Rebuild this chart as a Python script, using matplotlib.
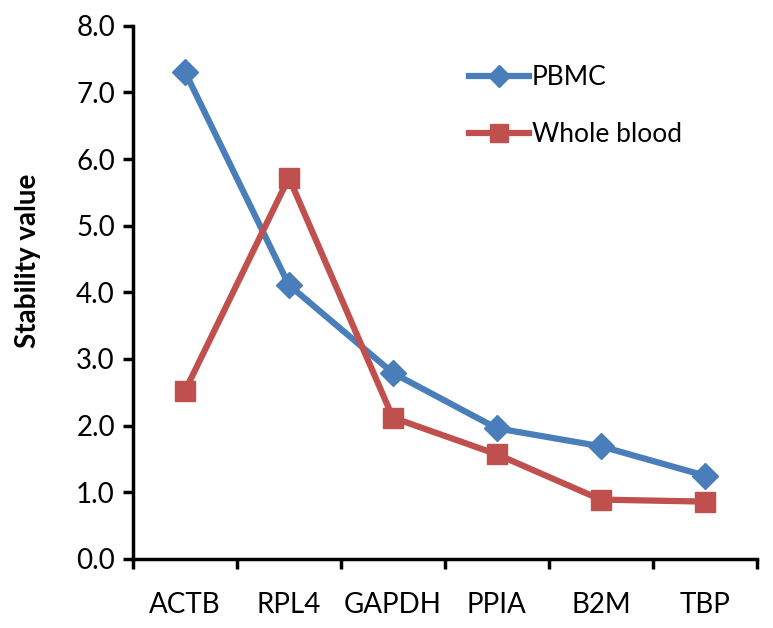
import matplotlib.pyplot as plt

plt.rcParams['font.family'] = ['Lato', 'DejaVu Sans']

genes = ['ACTB', 'RPL4', 'GAPDH', 'PPIA', 'B2M', 'TBP']
pbmc = [7.31, 4.11, 2.79, 1.96, 1.69, 1.25]
whole_blood = [2.52, 5.72, 2.12, 1.57, 0.89, 0.86]
y_ticks = [0, 1, 2, 3, 4, 5, 6, 7, 8]

fig = plt.figure(figsize=(7.73, 6.28), dpi=100)
ax = fig.add_axes([0.172, 0.110, 0.807, 0.849])

x = list(range(len(genes)))
ax.plot(x, pbmc, color='#4A7EBB', lw=4.5, marker='D', ms=13, label='PBMC')
ax.plot(x, whole_blood, color='#C0504D', lw=4.5, marker='s', ms=15, label='Whole blood')

ax.set_xlim(-0.5, len(genes) - 0.5)
ax.set_ylim(0, 8)
ax.set_yticks(y_ticks)
ax.set_yticklabels(['%.1f' % v for v in y_ticks])
ax.set_xticks(x)
ax.set_xticklabels(genes)
ax.set_xticks([i - 0.5 for i in range(len(genes) + 1)], minor=True)
ax.tick_params(axis='x', which='major', length=0, pad=24, labelsize=20)
ax.tick_params(axis='x', which='minor', length=7, width=2.5, direction='out')
ax.tick_params(axis='y', length=7, width=2.5, direction='out', labelsize=20, pad=6)

for s in ['top', 'right']:
    ax.spines[s].set_visible(False)
for s in ['left', 'bottom']:
    ax.spines[s].set_linewidth(2.5)

ax.set_ylabel('Stability value', fontsize=20, fontweight='bold')
ax.yaxis.set_label_coords(-0.148, 0.56)

ax.legend(loc='upper left', bbox_to_anchor=(0.5, 0.97), frameon=False,
          fontsize=19, handlelength=2.3, labelspacing=1.2, handletextpad=0.1,
          markerscale=0.9)

fig.savefig('out.png', dpi=100)
